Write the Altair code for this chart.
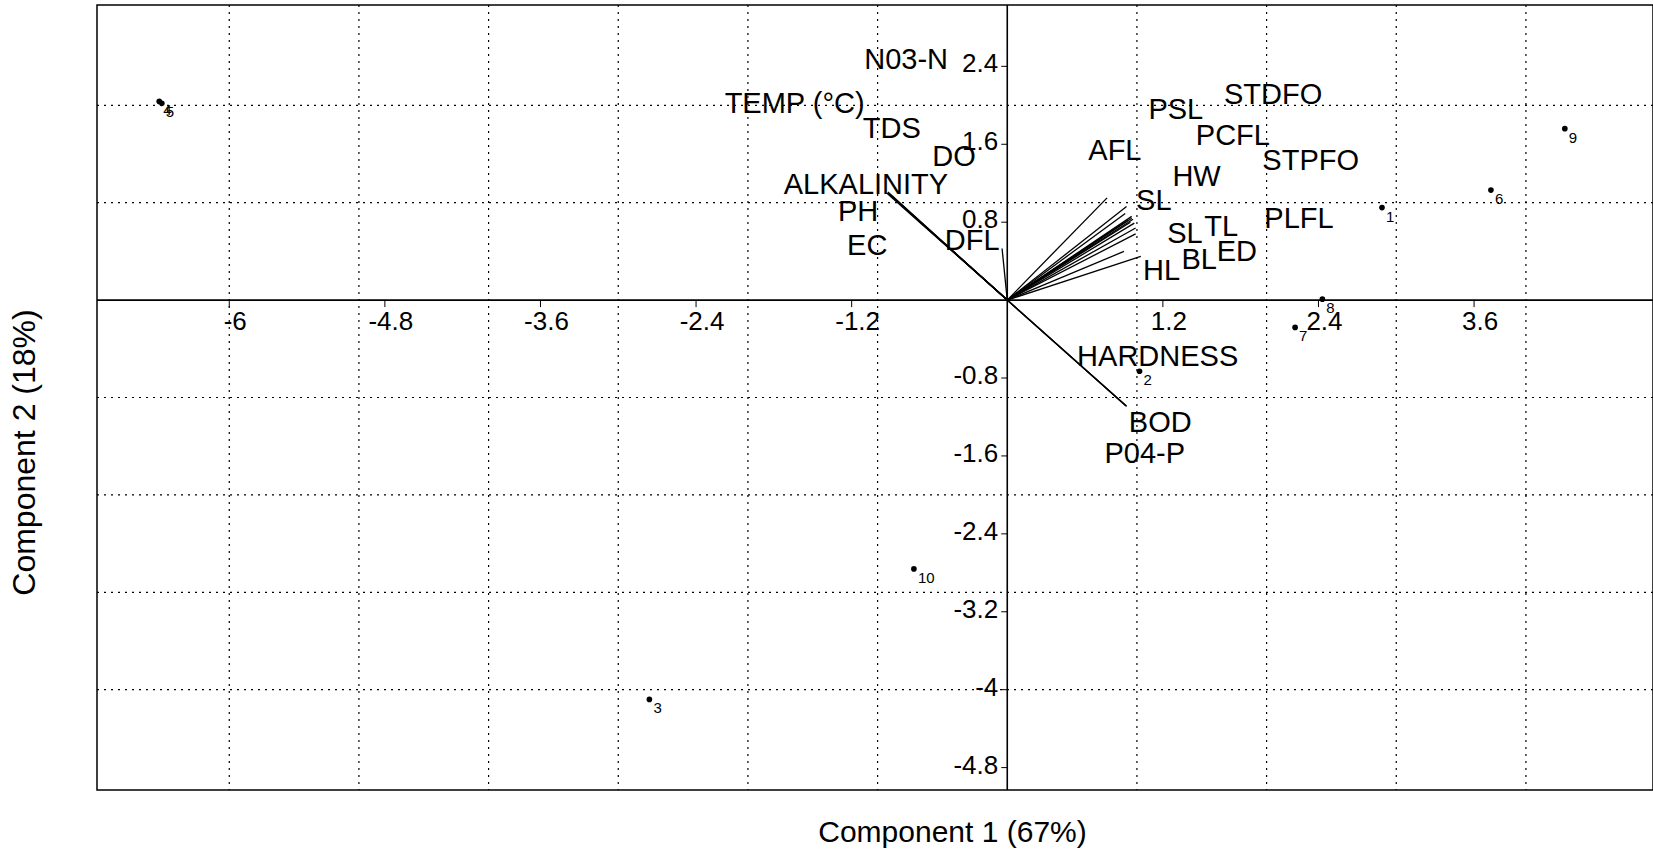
import altair as alt
import pandas as pd

# ---------------- data ----------------
X_DOMAIN = [-7.02, 4.98]
Y_DOMAIN = [-5.03, 3.03]

sample_ids = ["1", "2", "3", "5", "4", "6", "7", "8", "9", "10"]
sample_x = [2.89, 1.02, -2.76, -6.52, -6.54, 3.73, 2.22, 2.43, 4.30, -0.72]
sample_y = [0.95, -0.73, -4.10, 2.02, 2.04, 1.13, -0.28, 0.01, 1.76, -2.76]

var_names = ["N03-N", "TEMP (°C)", "TDS", "DO", "ALKALINITY", "PH", "EC", "DFL",
             "AFL", "PSL", "STDFO", "PCFL", "STPFO", "HW", "SL", "PLFL", "SL",
             "TL", "ED", "BL", "HL", "HARDNESS", "BOD", "P04-P"]
var_label_x = [-0.78, -1.64, -0.89, -0.41, -1.09, -1.15, -1.08, -0.27,
               0.83, 1.30, 2.05, 1.74, 2.34, 1.46, 1.13, 2.25, 1.37,
               1.65, 1.77, 1.48, 1.19, 1.16, 1.18, 1.06]
var_label_y = [2.48, 2.02, 1.77, 1.48, 1.19, 0.92, 0.57, 0.62,
               1.54, 1.96, 2.12, 1.70, 1.44, 1.27, 1.03, 0.84, 0.69,
               0.76, 0.50, 0.42, 0.31, -0.57, -1.25, -1.57]
var_end_x = [-0.92, -0.92, -0.91, -0.92, -0.92, -0.93, -0.92, -0.04,
             0.77, 0.92, 0.91, 0.96, 0.97, 0.98, 0.95, 0.99, 0.99,
             0.96, 0.93, 0.90, 1.03, 0.92, 0.92, 0.91]
var_end_y = [1.10, 1.10, 1.09, 1.10, 1.11, 1.10, 1.10, 0.53,
             1.05, 0.96, 0.89, 0.86, 0.83, 0.79, 0.80, 0.74, 0.68,
             0.84, 0.82, 0.50, 0.45, -1.09, -1.09, -1.08]

x_tick_values = [-6, -4.8, -3.6, -2.4, -1.2, 1.2, 2.4, 3.6]
x_tick_labels = ["-6", "-4.8", "-3.6", "-2.4", "-1.2", "1.2", "2.4", "3.6"]
y_tick_values = [2.4, 1.6, 0.8, -0.8, -1.6, -2.4, -3.2, -4, -4.8]
y_tick_labels = ["2.4", "1.6", "0.8", "-0.8", "-1.6", "-2.4", "-3.2", "-4", "-4.8"]
grid_x = [-6, -5, -4, -3, -2, -1, 1, 2, 3, 4]
grid_y = [-4, -3, -2, -1, 1, 2]

FONT = "Liberation Sans"

samples = pd.DataFrame({"id": sample_ids, "x": sample_x, "y": sample_y})
variables = pd.DataFrame({"name": var_names, "lx": var_label_x, "ly": var_label_y,
                          "ex": var_end_x, "ey": var_end_y, "ox": 0.0, "oy": 0.0})
xticks = pd.DataFrame({"v": x_tick_values, "t": x_tick_labels, "zero": 0.0})
yticks = pd.DataFrame({"v": y_tick_values, "t": y_tick_labels, "zero": 0.0})
xgrid = pd.DataFrame({"g": grid_x})
ygrid = pd.DataFrame({"g": grid_y})
origin = pd.DataFrame({"z": [0.0]})

xs = alt.Scale(domain=X_DOMAIN, nice=False, zero=False)
ys = alt.Scale(domain=Y_DOMAIN, nice=False, zero=False)

x_axis = alt.Axis(labels=False, ticks=False, domain=False, grid=False,
                  title="Component 1 (67%)", titleFont=FONT, titleFontSize=30,
                  titleFontWeight="normal", titleColor="black",
                  titleX=855, titleY=42, titleBaseline="middle", titleAlign="center")
y_axis = alt.Axis(labels=False, ticks=False, domain=False, grid=False,
                  title="Component 2 (18%)", titleFont=FONT, titleFontSize=32,
                  titleFontWeight="normal", titleColor="black",
                  titleX=-73, titleY=447, titleBaseline="middle", titleAngle=-90,
                  titleAlign="center")


def X(field):
    return alt.X(field, scale=xs, axis=x_axis)


def Y(field):
    return alt.Y(field, scale=ys, axis=y_axis)


# dotted grid
gx = alt.Chart(xgrid).mark_rule(color="black", strokeWidth=1.2, strokeDash=[2, 5]).encode(x=X("g:Q"))
gy = alt.Chart(ygrid).mark_rule(color="black", strokeWidth=1.2, strokeDash=[2, 5]).encode(y=Y("g:Q"))

# samples
points = alt.Chart(samples).mark_circle(size=32, color="black", opacity=1).encode(
    x=X("x:Q"), y=Y("y:Q"))
point_labels = alt.Chart(samples).mark_text(
    align="left", baseline="top", dx=4, dy=2, fontSize=15, font=FONT, color="black"
).encode(x=X("x:Q"), y=Y("y:Q"), text="id:N")

# axes through the origin
vline = alt.Chart(origin).mark_rule(color="black", strokeWidth=1.6).encode(x=X("z:Q"))
hline = alt.Chart(origin).mark_rule(color="black", strokeWidth=1.6).encode(y=Y("z:Q"))

xtick_marks = alt.Chart(xticks).mark_rule(color="black", strokeWidth=1, y2Offset=7).encode(
    x=X("v:Q"), y=Y("zero:Q"), y2="zero:Q")
xtick_text = alt.Chart(xticks).mark_text(
    align="center", baseline="middle", dx=6, dy=22, fontSize=26, font=FONT, color="black"
).encode(x=X("v:Q"), y=Y("zero:Q"), text="t:N")

ytick_marks = alt.Chart(yticks).mark_rule(color="black", strokeWidth=1, x2Offset=-6).encode(
    y=Y("v:Q"), x=X("zero:Q"), x2="zero:Q")
ytick_text = alt.Chart(yticks).mark_text(
    align="right", baseline="middle", dx=-9, dy=-2, fontSize=26, font=FONT, color="black"
).encode(x=X("zero:Q"), y=Y("v:Q"), text="t:N")

# loading vectors and their labels
vectors = alt.Chart(variables).mark_rule(color="black", strokeWidth=1.3).encode(
    x=X("ox:Q"), y=Y("oy:Q"), x2="ex:Q", y2="ey:Q")
var_text = alt.Chart(variables).mark_text(
    align="center", baseline="middle", dy=1, fontSize=29, font=FONT, color="black"
).encode(x=X("lx:Q"), y=Y("ly:Q"), text="name:N")

chart = alt.layer(
    gx, gy, points, vline, hline, xtick_marks, ytick_marks, vectors,
    xtick_text, ytick_text, var_text, point_labels
).properties(
    width=1556, height=785,
    autosize=alt.AutoSizeParams(type="none"),
    padding={"left": 97, "top": 5, "right": 0, "bottom": 62},
    background="white",
).configure_view(stroke="black", strokeWidth=1.5)

chart.save("out.html", embed_options={"renderer": "svg", "actions": False})
